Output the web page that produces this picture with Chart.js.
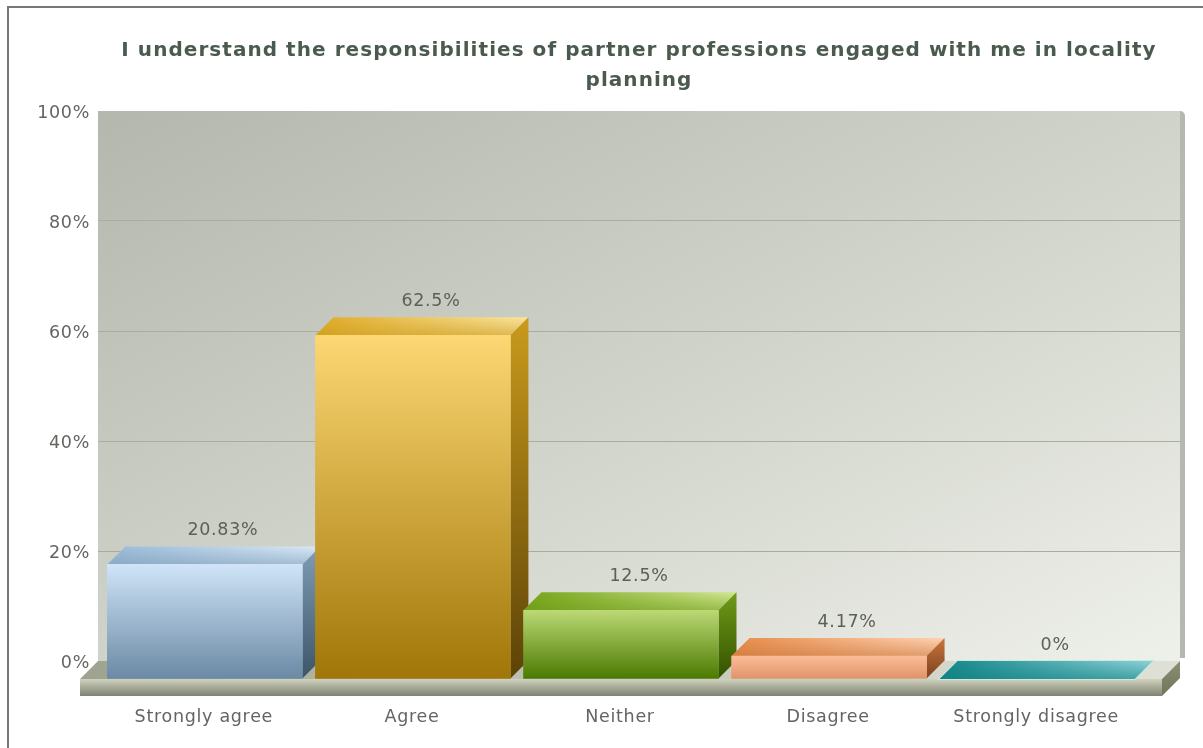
<!DOCTYPE html>
<html>
<head>
<meta charset="utf-8">
<title>Locality planning survey</title>
<script src="https://cdn.jsdelivr.net/npm/chart.js@4"></script>
<style>
  html, body { margin: 0; padding: 0; width: 1203px; height: 748px; overflow: hidden; background: #fff; }
  #frame { position: absolute; left: 7px; top: 6px; width: 1300px; height: 900px; border: 2px solid #777; }
  #wrap { position: absolute; left: 0; top: 0; width: 1203px; height: 748px; }
</style>
</head>
<body>
<div id="frame"></div>
<div id="wrap"><canvas id="chart" width="1203" height="748"></canvas></div>
<script>
const titleLines = ['I understand the responsibilities of partner professions engaged with me in locality', 'planning'];
const categories = ['Strongly agree', 'Agree', 'Neither', 'Disagree', 'Strongly disagree'];
const values = [20.83, 62.5, 12.5, 4.17, 0];
const valueLabels = ['20.83%', '62.5%', '12.5%', '4.17%', '0%'];
const positions = [0, 1, 2, 3, 4];

// [front top, front bottom, side top, side bottom, top-face left, top-face right]
const barShades = [
  ['#cfe4f8', '#6a89a4', '#7f9db6', '#3d5568', '#9abbd8', '#d9e9f7'],
  ['#fcd773', '#a07608', '#c99a1c', '#5c4207', '#e0ac28', '#fae59f'],
  ['#bcd975', '#4a7900', '#6f9b18', '#345100', '#75a518', '#d2e893'],
  ['#fabd97', '#e0926a', '#c9763b', '#7c4020', '#e88c4a', '#ffd3b4'],
  ['#0f8080', '#0f8080', '#0f8080', '#0f8080', '#138688', '#8dd2d8']
];

const DEPTH = 18;
const TEXT_SPACING = '0.7px';
const TITLE_SPACING = '1.05px';

function poly(ctx, pts, fill) {
  ctx.beginPath();
  pts.forEach((p, i) => (i ? ctx.lineTo(p[0], p[1]) : ctx.moveTo(p[0], p[1])));
  ctx.closePath();
  ctx.fillStyle = fill;
  ctx.fill();
}

function vGrad(ctx, y0, y1, stops) {
  const g = ctx.createLinearGradient(0, y0, 0, y1);
  stops.forEach(([o, c]) => g.addColorStop(o, c));
  return g;
}

function hGrad(ctx, x0, x1, stops) {
  const g = ctx.createLinearGradient(x0, 0, x1, 0);
  stops.forEach(([o, c]) => g.addColorStop(o, c));
  return g;
}

// Wider tracking for the title than for the axis text.
const trackingPlugin = {
  id: 'tracking',
  afterLayout(chart) {
    const block = chart.titleBlock;
    const drawTitle = block.draw.bind(block);
    block.draw = area => {
      chart.ctx.letterSpacing = TITLE_SPACING;
      drawTitle(area);
      chart.ctx.letterSpacing = TEXT_SPACING;
    };
  },
  beforeDraw(chart) {
    chart.ctx.letterSpacing = TEXT_SPACING;
  }
};

// Back wall, its right edge and the raised floor slab.
const stagePlugin = {
  id: 'stage',
  beforeDraw(chart) {
    const { ctx, chartArea: a } = chart;
    const w = a.right - a.left, h = a.bottom - a.top;
    ctx.save();
    ctx.beginPath();
    ctx.roundRect(a.left, a.top, w + 5, h - 3, [0, 5, 0, 0]);
    ctx.fillStyle = '#b5b8b0';
    ctx.fill();
    // Light runs corner to corner, with the two off-diagonal corners at the same tone.
    const cx = a.left + w / 2, cy = a.top + h / 2;
    const len = Math.hypot(w, h);
    const ux = h / len, uy = w / len;
    const reach = (w / 2) * ux + (h / 2) * uy;
    const wall = ctx.createLinearGradient(cx - ux * reach, cy - uy * reach, cx + ux * reach, cy + uy * reach);
    wall.addColorStop(0, '#b3b7ad');
    wall.addColorStop(0.5, '#d0d3c9');
    wall.addColorStop(1, '#eef0ea');
    ctx.fillStyle = wall;
    ctx.fillRect(a.left, a.top, w, h);
    ctx.restore();
  },
  beforeDatasetsDraw(chart) {
    const { ctx, chartArea: a } = chart;
    const fl = a.left - DEPTH, fr = a.right - DEPTH, b = a.bottom, fb = b + DEPTH, h = 17;
    ctx.save();
    poly(ctx, [[fl, fb], [a.left, b], [a.right, b], [fr, fb]],
      hGrad(ctx, fl, a.right, [[0, '#9ea38f'], [0.5, '#c4c7b8'], [1, '#dfe1d6']]));
    poly(ctx, [[fr, fb], [a.right, b], [a.right, b + h], [fr, fb + h]],
      vGrad(ctx, b, fb + h, [[0, '#8b9074'], [1, '#6f7558']]));
    ctx.fillStyle = vGrad(ctx, fb, fb + h, [[0, '#cfd2bd'], [0.45, '#a9ad9a'], [1, '#7f8373']]);
    ctx.fillRect(fl, fb, fr - fl, h);
    ctx.restore();
  }
};

// Gives each bar its top and side faces, and sets the front face forward of the wall.
const depthPlugin = {
  id: 'depth',
  beforeDatasetDraw(chart, args) {
    const { ctx } = chart;
    ctx.save();
    args.meta.data.forEach((bar, i) => {
      const { x, y, base, width } = bar.getProps(['x', 'y', 'base', 'width'], true);
      const left = x - width / 2, right = x + width / 2, s = barShades[i];
      const top = [[left - DEPTH, y + DEPTH], [left, y], [right, y], [right - DEPTH, y + DEPTH]];
      if (values[i] === 0) {
        ctx.beginPath();
        top.forEach((p, k) => (k ? ctx.lineTo(p[0], p[1]) : ctx.moveTo(p[0], p[1])));
        ctx.closePath();
        ctx.strokeStyle = '#cbe8e4';
        ctx.lineWidth = 2;
        ctx.stroke();
      }
      poly(ctx, top, hGrad(ctx, left - DEPTH, right, [[0, s[4]], [1, s[5]]]));
      // Top faces deepen towards the front edge in the bar's own side colour.
      poly(ctx, top, vGrad(ctx, y, y + DEPTH, [[0, s[2] + '00'], [1, s[2] + '90']]));
      if (values[i] > 0) {
        poly(ctx, [[right - DEPTH, y + DEPTH], [right, y], [right, base], [right - DEPTH, base + DEPTH]],
          vGrad(ctx, y, base + DEPTH, [[0, s[2]], [1, s[3]]]));
      }
    });
    ctx.translate(-DEPTH, DEPTH);
  },
  afterDatasetDraw(chart) {
    chart.ctx.restore();
  },
  afterDatasetsDraw(chart) {
    const { ctx } = chart;
    const meta = chart.getDatasetMeta(0);
    ctx.save();
    ctx.font = '17.5px "DejaVu Sans"';
    ctx.fillStyle = '#5d605a';
    ctx.textAlign = 'center';
    ctx.textBaseline = 'middle';
    meta.data.forEach((bar, i) => {
      const { x, y } = bar.getProps(['x', 'y'], true);
      ctx.fillText(valueLabels[i], x, y - 16);
    });
    ctx.restore();
  }
};

new Chart(document.getElementById('chart'), {
  type: 'bar',
  data: {
    datasets: [{
      data: positions.map((p, i) => ({ x: p, y: values[i] })),
      barThickness: 195,
      borderWidth: 0,
      clip: false,
      backgroundColor(ctx) {
        const s = barShades[ctx.dataIndex];
        const { chart } = ctx;
        if (!chart.chartArea || !ctx.parsed) return s[0];
        const yScale = chart.scales.y;
        const g = chart.ctx.createLinearGradient(0, yScale.getPixelForValue(ctx.parsed.y), 0, yScale.getPixelForValue(0));
        g.addColorStop(0, s[0]);
        g.addColorStop(1, s[1]);
        return g;
      }
    }]
  },
  options: {
    responsive: false,
    animation: false,
    devicePixelRatio: 1,
    layout: { padding: { left: 0, right: 23, top: 0, bottom: 0 } },
    plugins: {
      legend: { display: false },
      tooltip: { enabled: false },
      title: {
        display: true,
        fullSize: false,
        text: titleLines,
        color: '#4b5a4e',
        font: { family: '"DejaVu Sans"', size: 20, weight: 'bold', lineHeight: 1.5 },
        padding: { top: 36, bottom: 15 }
      }
    },
    scales: {
      x: {
        type: 'linear',
        min: -0.6,
        max: 4.6,
        offset: false,
        grid: { display: false, offset: false },
        border: { display: false },
        afterBuildTicks(scale) { scale.ticks = positions.map(value => ({ value })); },
        afterFit(scale) { scale.height = 87; },
        ticks: {
          autoSkip: false,
          maxRotation: 0,
          padding: 38,
          labelOffset: -19,
          color: '#626560',
          font: { family: '"DejaVu Sans"', size: 17.5 },
          callback: value => categories[value]
        }
      },
      y: {
        min: 0,
        max: 100,
        border: { display: false },
        grid: {
          drawTicks: false,
          color: ctx => (ctx.tick && ctx.tick.value > 0 && ctx.tick.value < 100 ? '#a9ae98' : 'rgba(0,0,0,0)')
        },
        afterFit(scale) { scale.width = 98; },
        ticks: {
          stepSize: 20,
          padding: 8,
          labelOffset: 2,
          color: '#626560',
          font: { family: '"DejaVu Sans"', size: 17.5 },
          callback: v => v + '%'
        }
      }
    }
  },
  plugins: [trackingPlugin, stagePlugin, depthPlugin]
});
</script>
</body>
</html>
